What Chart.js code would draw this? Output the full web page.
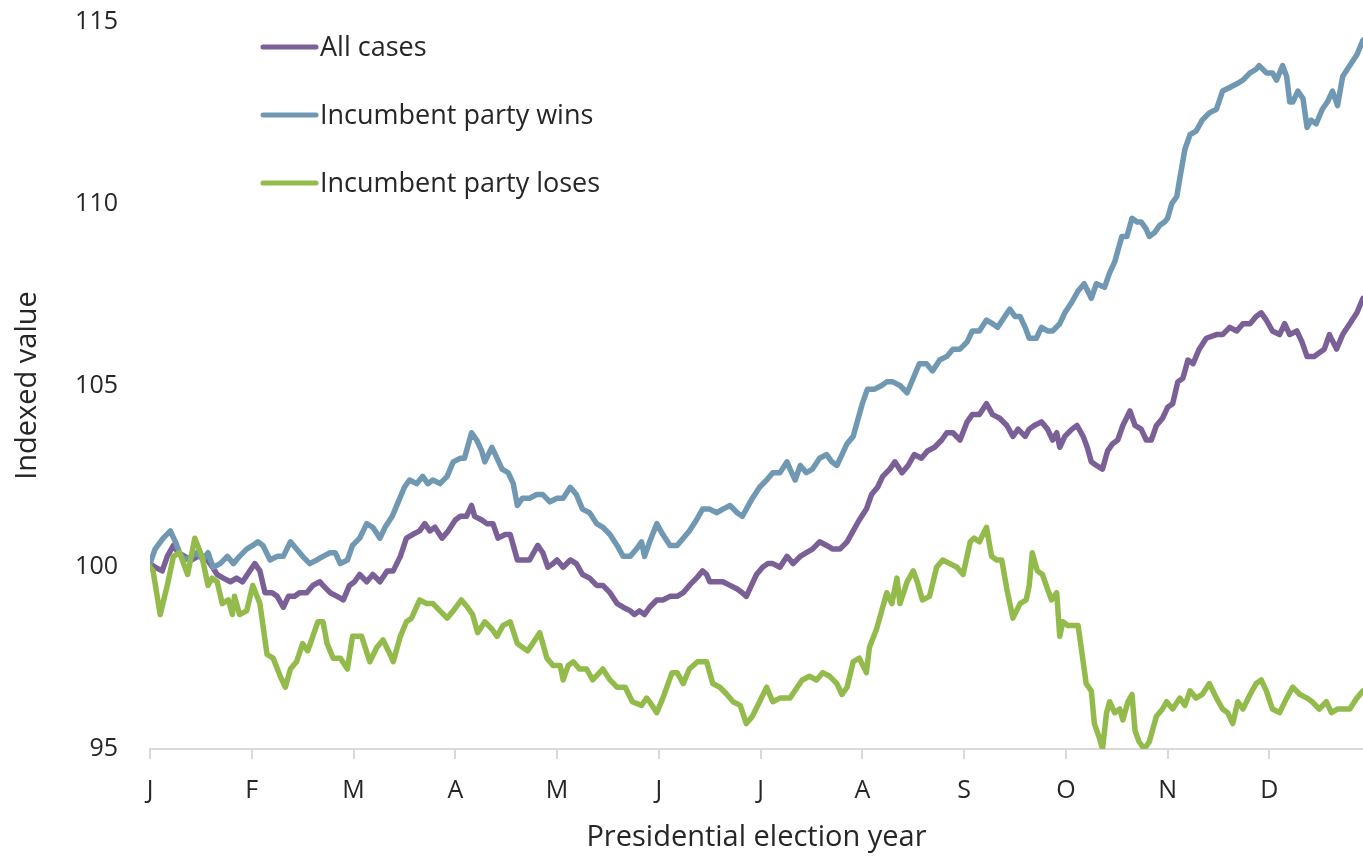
<!DOCTYPE html>
<html>
<head>
<meta charset="utf-8">
<title>Presidential election year</title>
<script src="https://cdn.jsdelivr.net/npm/chart.js@4.4.1/dist/chart.umd.min.js"></script>
<style>
  html, body { margin: 0; padding: 0; background: #fff; }
  #wrap { width: 1363px; height: 857px; }
</style>
</head>
<body>
<div id="wrap"><canvas id="electionChart" width="1363" height="857"></canvas></div>
<script>
const monthLabels = ['J', 'F', 'M', 'A', 'M', 'J', 'J', 'A', 'S', 'O', 'N', 'D'];
const seriesNames = ['All cases', 'Incumbent party wins', 'Incumbent party loses'];

// [months since 1 Jan, indexed value]
const allCases = [
  [0.00,100.1],[0.05,100.0],[0.12,99.9],[0.17,100.3],[0.23,100.6],[0.28,100.4],[0.34,100.3],[0.41,100.2],
  [0.47,100.3],[0.54,100.3],[0.59,100.1],[0.66,99.8],[0.72,99.7],[0.79,99.6],[0.85,99.7],[0.91,99.6],
  [0.98,99.9],[1.03,100.1],[1.08,99.9],[1.13,99.3],[1.20,99.3],[1.25,99.2],[1.31,98.9],[1.36,99.2],
  [1.42,99.2],[1.47,99.3],[1.54,99.3],[1.60,99.5],[1.67,99.6],[1.70,99.5],[1.77,99.3],[1.84,99.2],
  [1.90,99.1],[1.96,99.5],[2.01,99.6],[2.06,99.8],[2.13,99.6],[2.19,99.8],[2.26,99.6],[2.33,99.9],
  [2.39,99.9],[2.46,100.3],[2.52,100.8],[2.58,100.9],[2.65,101.0],[2.70,101.2],[2.75,101.0],[2.80,101.1],
  [2.87,100.8],[2.93,101.0],[3.00,101.3],[3.05,101.4],[3.11,101.4],[3.16,101.7],[3.19,101.4],[3.26,101.3],
  [3.31,101.2],[3.37,101.2],[3.42,100.8],[3.49,100.9],[3.54,100.9],[3.61,100.2],[3.66,100.2],[3.73,100.2],
  [3.81,100.6],[3.86,100.4],[3.91,100.0],[3.96,100.1],[4.00,100.2],[4.06,100.0],[4.13,100.2],[4.19,100.1],
  [4.25,99.8],[4.32,99.7],[4.39,99.5],[4.45,99.5],[4.52,99.3],[4.59,99.0],[4.65,98.9],[4.72,98.8],
  [4.76,98.7],[4.81,98.8],[4.86,98.7],[4.91,98.9],[4.98,99.1],[5.04,99.1],[5.11,99.2],[5.18,99.2],
  [5.24,99.3],[5.30,99.5],[5.37,99.7],[5.43,99.9],[5.47,99.8],[5.50,99.6],[5.57,99.6],[5.63,99.6],
  [5.70,99.5],[5.77,99.4],[5.82,99.3],[5.86,99.2],[5.91,99.5],[5.96,99.8],[6.02,100.0],[6.07,100.1],
  [6.12,100.1],[6.19,100.0],[6.26,100.3],[6.32,100.1],[6.39,100.3],[6.45,100.4],[6.51,100.5],[6.58,100.7],
  [6.65,100.6],[6.71,100.5],[6.78,100.5],[6.85,100.7],[6.91,101.0],[6.97,101.3],[7.04,101.6],[7.09,102.0],
  [7.15,102.2],[7.20,102.5],[7.27,102.7],[7.32,102.9],[7.39,102.6],[7.45,102.8],[7.51,103.1],[7.58,103.0],
  [7.64,103.2],[7.71,103.3],[7.78,103.5],[7.83,103.7],[7.89,103.7],[7.96,103.5],[8.03,104.0],[8.08,104.2],
  [8.15,104.2],[8.22,104.5],[8.28,104.2],[8.35,104.1],[8.42,103.9],[8.48,103.6],[8.53,103.8],[8.60,103.6],
  [8.64,103.8],[8.69,103.9],[8.76,104.0],[8.82,103.8],[8.87,103.5],[8.91,103.7],[8.94,103.3],[8.99,103.6],
  [9.06,103.8],[9.11,103.9],[9.17,103.6],[9.21,103.3],[9.25,102.9],[9.30,102.8],[9.36,102.7],[9.41,103.2],
  [9.46,103.4],[9.51,103.5],[9.56,103.9],[9.63,104.3],[9.68,103.9],[9.74,103.8],[9.79,103.5],[9.84,103.5],
  [9.89,103.9],[9.95,104.1],[10.00,104.4],[10.05,104.5],[10.10,105.1],[10.15,105.2],[10.20,105.7],[10.25,105.6],
  [10.31,106.0],[10.38,106.3],[10.48,106.4],[10.54,106.4],[10.61,106.6],[10.68,106.5],[10.74,106.7],[10.81,106.7],
  [10.87,106.9],[10.92,107.0],[10.97,106.8],[11.03,106.5],[11.10,106.4],[11.15,106.7],[11.20,106.4],[11.27,106.5],
  [11.32,106.2],[11.37,105.8],[11.44,105.8],[11.49,105.9],[11.54,106.0],[11.59,106.4],[11.66,106.0],[11.72,106.4],
  [11.79,106.7],[11.86,107.0],[11.92,107.4]
];

const incumbentWins = [
  [0.00,100.1],[0.05,100.5],[0.13,100.8],[0.20,101.0],[0.25,100.7],[0.29,100.4],[0.34,100.2],[0.41,100.3],
  [0.46,100.4],[0.52,100.2],[0.57,100.4],[0.62,100.0],[0.69,100.1],[0.76,100.3],[0.82,100.1],[0.88,100.3],
  [0.95,100.5],[1.01,100.6],[1.06,100.7],[1.11,100.6],[1.18,100.2],[1.25,100.3],[1.31,100.3],[1.38,100.7],
  [1.44,100.5],[1.50,100.3],[1.57,100.1],[1.64,100.2],[1.70,100.3],[1.77,100.4],[1.82,100.4],[1.87,100.1],
  [1.94,100.2],[1.99,100.6],[2.06,100.8],[2.13,101.2],[2.19,101.1],[2.26,100.8],[2.31,101.1],[2.38,101.4],
  [2.44,101.8],[2.50,102.2],[2.55,102.4],[2.62,102.3],[2.68,102.5],[2.73,102.3],[2.78,102.4],[2.85,102.3],
  [2.92,102.5],[2.98,102.9],[3.05,103.0],[3.09,103.0],[3.16,103.7],[3.21,103.5],[3.26,103.2],[3.29,102.9],
  [3.36,103.3],[3.41,103.0],[3.46,102.7],[3.52,102.6],[3.57,102.3],[3.61,101.7],[3.66,101.9],[3.73,101.9],
  [3.80,102.0],[3.86,102.0],[3.93,101.8],[4.00,101.9],[4.06,101.9],[4.13,102.2],[4.19,102.0],[4.25,101.6],
  [4.32,101.5],[4.39,101.2],[4.45,101.1],[4.52,100.9],[4.59,100.6],[4.65,100.3],[4.72,100.3],[4.78,100.5],
  [4.83,100.7],[4.86,100.3],[4.91,100.7],[4.98,101.2],[5.04,100.9],[5.11,100.6],[5.18,100.6],[5.24,100.8],
  [5.30,101.0],[5.37,101.3],[5.43,101.6],[5.50,101.6],[5.57,101.5],[5.63,101.6],[5.70,101.7],[5.77,101.5],
  [5.82,101.4],[5.86,101.6],[5.92,101.9],[5.99,102.2],[6.06,102.4],[6.12,102.6],[6.19,102.6],[6.26,102.9],
  [6.29,102.7],[6.34,102.4],[6.39,102.8],[6.45,102.6],[6.51,102.7],[6.58,103.0],[6.65,103.1],[6.70,102.9],
  [6.75,102.8],[6.80,103.1],[6.85,103.4],[6.91,103.6],[6.95,104.0],[7.00,104.5],[7.05,104.9],[7.12,104.9],
  [7.19,105.0],[7.24,105.1],[7.30,105.1],[7.37,105.0],[7.44,104.8],[7.50,105.2],[7.56,105.6],[7.63,105.6],
  [7.69,105.4],[7.76,105.7],[7.83,105.8],[7.89,106.0],[7.96,106.0],[8.03,106.2],[8.08,106.5],[8.15,106.5],
  [8.22,106.8],[8.28,106.7],[8.33,106.6],[8.40,106.9],[8.45,107.1],[8.50,106.9],[8.55,106.9],[8.60,106.6],
  [8.64,106.3],[8.71,106.3],[8.76,106.6],[8.82,106.5],[8.87,106.5],[8.94,106.7],[8.99,107.0],[9.06,107.3],
  [9.12,107.6],[9.18,107.8],[9.25,107.4],[9.30,107.8],[9.38,107.7],[9.43,108.1],[9.48,108.4],[9.51,108.7],
  [9.55,109.1],[9.60,109.1],[9.65,109.6],[9.70,109.5],[9.74,109.5],[9.79,109.3],[9.82,109.1],[9.87,109.2],
  [9.92,109.4],[9.97,109.5],[10.00,109.6],[10.04,110.0],[10.09,110.2],[10.12,110.7],[10.17,111.5],[10.22,111.9],
  [10.28,112.0],[10.34,112.3],[10.41,112.5],[10.48,112.6],[10.54,113.1],[10.61,113.2],[10.68,113.3],[10.74,113.4],
  [10.81,113.6],[10.87,113.7],[10.90,113.8],[10.97,113.6],[11.03,113.6],[11.07,113.4],[11.13,113.8],[11.17,113.5],
  [11.20,112.8],[11.23,112.8],[11.28,113.1],[11.33,112.9],[11.37,112.1],[11.41,112.3],[11.46,112.2],[11.52,112.6],
  [11.57,112.8],[11.62,113.1],[11.67,112.7],[11.72,113.5],[11.79,113.8],[11.86,114.1],[11.92,114.5]
];

const incumbentLoses = [
  [0.00,100.0],[0.03,99.9],[0.10,98.7],[0.17,99.5],[0.23,100.3],[0.29,100.4],[0.37,99.8],[0.44,100.8],
  [0.51,100.3],[0.57,99.5],[0.61,99.7],[0.66,99.6],[0.71,99.0],[0.77,99.1],[0.81,98.7],[0.83,99.2],
  [0.88,98.7],[0.95,98.8],[1.01,99.5],[1.08,99.0],[1.15,97.6],[1.21,97.5],[1.28,97.0],[1.33,96.7],
  [1.38,97.2],[1.44,97.4],[1.50,97.9],[1.55,97.7],[1.60,98.1],[1.65,98.5],[1.70,98.5],[1.74,97.9],
  [1.80,97.5],[1.87,97.5],[1.94,97.2],[1.99,98.1],[2.08,98.1],[2.16,97.4],[2.23,97.8],[2.29,98.0],
  [2.36,97.6],[2.39,97.4],[2.46,98.1],[2.52,98.5],[2.57,98.6],[2.65,99.1],[2.72,99.0],[2.78,99.0],
  [2.85,98.8],[2.92,98.6],[2.98,98.8],[3.06,99.1],[3.12,98.9],[3.17,98.7],[3.22,98.2],[3.29,98.5],
  [3.36,98.3],[3.41,98.1],[3.47,98.4],[3.54,98.5],[3.61,97.9],[3.66,97.8],[3.71,97.7],[3.76,97.9],
  [3.83,98.2],[3.90,97.5],[3.96,97.3],[4.03,97.3],[4.06,96.9],[4.11,97.3],[4.16,97.4],[4.22,97.2],
  [4.29,97.2],[4.35,96.9],[4.45,97.2],[4.52,96.9],[4.59,96.7],[4.67,96.7],[4.74,96.3],[4.83,96.2],
  [4.88,96.4],[4.91,96.3],[4.98,96.0],[5.04,96.4],[5.13,97.1],[5.18,97.1],[5.24,96.8],[5.30,97.2],
  [5.38,97.4],[5.47,97.4],[5.53,96.8],[5.60,96.7],[5.67,96.5],[5.73,96.3],[5.80,96.2],[5.86,95.7],
  [5.92,95.9],[5.99,96.3],[6.06,96.7],[6.12,96.3],[6.19,96.4],[6.29,96.4],[6.36,96.7],[6.41,96.9],
  [6.48,97.0],[6.55,96.9],[6.61,97.1],[6.68,97.0],[6.75,96.8],[6.80,96.5],[6.85,96.7],[6.91,97.4],
  [6.97,97.5],[7.04,97.1],[7.07,97.8],[7.14,98.3],[7.20,98.9],[7.24,99.3],[7.29,99.0],[7.34,99.7],
  [7.37,99.0],[7.44,99.6],[7.50,99.9],[7.54,99.6],[7.59,99.1],[7.66,99.2],[7.73,100.0],[7.79,100.2],
  [7.86,100.1],[7.93,100.0],[7.99,99.8],[8.06,100.7],[8.10,100.8],[8.15,100.7],[8.22,101.1],[8.27,100.3],
  [8.32,100.2],[8.37,100.2],[8.42,99.4],[8.48,98.6],[8.55,99.0],[8.61,99.1],[8.64,99.5],[8.67,100.4],
  [8.72,99.9],[8.77,99.8],[8.82,99.4],[8.86,99.1],[8.91,99.3],[8.94,98.1],[8.97,98.5],[9.02,98.4],
  [9.07,98.4],[9.12,98.4],[9.16,97.6],[9.20,96.8],[9.25,96.6],[9.28,95.7],[9.33,95.3],[9.36,95.0],
  [9.40,96.0],[9.43,96.3],[9.48,96.0],[9.53,96.1],[9.56,95.8],[9.61,96.3],[9.65,96.5],[9.68,95.5],
  [9.72,95.2],[9.77,95.0],[9.82,95.2],[9.89,95.9],[9.95,96.1],[9.99,96.3],[10.05,96.1],[10.12,96.4],
  [10.17,96.2],[10.22,96.6],[10.28,96.4],[10.34,96.5],[10.41,96.8],[10.48,96.4],[10.54,96.1],[10.59,96.0],
  [10.64,95.7],[10.69,96.3],[10.74,96.1],[10.81,96.5],[10.87,96.8],[10.92,96.9],[10.97,96.6],[11.03,96.1],
  [11.10,96.0],[11.17,96.4],[11.23,96.7],[11.30,96.5],[11.37,96.4],[11.42,96.3],[11.49,96.1],[11.56,96.3],
  [11.61,96.0],[11.67,96.1],[11.72,96.1],[11.79,96.1],[11.86,96.4],[11.92,96.6]
];

const seriesColors = ['#7a6096', '#7198b3', '#93bb4b'];
const textColor = '#262626';
const fontFamily = "'Open Sans', sans-serif";

Chart.defaults.font.family = fontFamily;
Chart.defaults.font.size = 25;
Chart.defaults.color = textColor;

function toPoints(rows) {
  return rows.map(r => ({ x: r[0], y: r[1] }));
}

// legend sits inside the plot, top left, one row per series
const insideLegend = {
  id: 'insideLegend',
  afterDatasetsDraw(chart) {
    const { ctx, chartArea } = chart;
    const x0 = chartArea.left + 113;
    ctx.save();
    ctx.font = '27px ' + fontFamily;
    ctx.textBaseline = 'middle';
    ctx.lineCap = 'round';
    chart.data.datasets.forEach((ds, i) => {
      const y = chartArea.top + 25 + i * 68;
      ctx.strokeStyle = ds.borderColor;
      ctx.lineWidth = 5;
      ctx.beginPath();
      ctx.moveTo(x0, y);
      ctx.lineTo(x0 + 53, y);
      ctx.stroke();
      ctx.fillStyle = textColor;
      ctx.fillText(ds.label, x0 + 57, y + 1);
    });
    ctx.restore();
  }
};

const lineStyle = {
  borderWidth: 5.5,
  pointRadius: 0,
  pointHoverRadius: 0,
  fill: false,
  tension: 0,
  borderJoinStyle: 'round',
  borderCapStyle: 'round'
};

new Chart(document.getElementById('electionChart'), {
  type: 'line',
  data: {
    datasets: [{
      ...lineStyle,
      label: seriesNames[0],
      data: toPoints(allCases),
      borderColor: seriesColors[0],
      order: 2
    }, {
      ...lineStyle,
      label: seriesNames[1],
      data: toPoints(incumbentWins),
      borderColor: seriesColors[1],
      order: 1
    }, {
      ...lineStyle,
      label: seriesNames[2],
      data: toPoints(incumbentLoses),
      borderColor: seriesColors[2],
      order: 0
    }]
  },
  options: {
    responsive: false,
    animation: false,
    layout: { padding: { top: 22, right: 0, bottom: 0, left: 0 } },
    plugins: {
      legend: { display: false },
      tooltip: { enabled: false }
    },
    scales: {
      x: {
        type: 'linear',
        min: 0,
        max: 11.92,
        afterFit: (scale) => { scale.height = 108; },
        ticks: {
          stepSize: 1,
          includeBounds: false,
          autoSkip: false,
          maxRotation: 0,
          padding: 17,
          callback: (v) => monthLabels[v]
        },
        grid: {
          drawOnChartArea: false,
          drawTicks: true,
          tickLength: 10,
          color: '#d9d9d9',
          lineWidth: 2
        },
        border: { display: true, color: '#d9d9d9', width: 2 },
        title: {
          display: true,
          text: 'Presidential election year',
          font: { size: 29 },
          padding: { top: 0, bottom: 2 }
        }
      },
      y: {
        min: 95,
        max: 115,
        afterFit: (scale) => { scale.width = 150; },
        ticks: { stepSize: 5, padding: 0 },
        // hidden grid; tickLength only spaces the labels off the plot
        grid: { display: false, drawTicks: true, tickLength: 32 },
        border: { display: false },
        title: {
          display: true,
          text: 'Indexed value',
          font: { size: 29 },
          padding: { top: 10, bottom: 0 }
        }
      }
    }
  },
  plugins: [insideLegend]
});
</script>
</body>
</html>
